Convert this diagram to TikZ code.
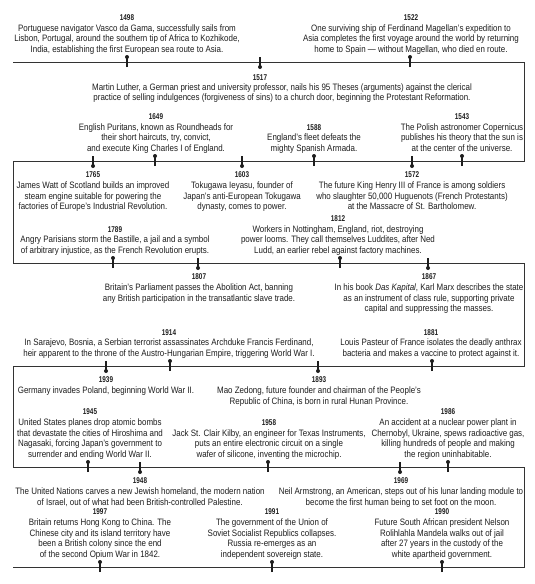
\documentclass[tikz,border=0pt]{standalone}
\usepackage{fontspec}
\setmainfont{Liberation Sans}[FakeStretch=0.855]
\newfontfamily\yrfont{Liberation Sans}[FakeStretch=0.76]
\definecolor{ink}{HTML}{1E1E1E}
\definecolor{rulec}{HTML}{333333}
\newcommand{\yr}[1]{{\yrfont\bfseries\fontsize{8.4}{10.8}\selectfont #1}}
\newcommand{\tlpinup}[2]{\draw[pinstem] (#1,#2+5) -- (#1,#2-5); \fill[pindot] (#1,#2-5) circle[radius=2pt];}
\newcommand{\tlpindown}[2]{\draw[pinstem] (#1,#2-5) -- (#1,#2+5); \fill[pindot] (#1,#2+5) circle[radius=2pt];}
\tikzset{
  ev/.style={font=\fontsize{9.3}{10.8}\selectfont, text=ink, align=center, inner sep=0pt,
    execute at begin node=\strut, execute at end node=\strut},
  up/.style={ev, anchor=south},
  dn/.style={ev, anchor=north},
  tline/.style={draw=rulec, line width=1pt, line join=miter},
  pinstem/.style={draw=ink, line width=1.1pt},
  pindot/.style={fill=ink}
}
\begin{document}
\begin{tikzpicture}[x=1pt,y=-1pt]
\def\La{62}\def\Lb{161}\def\Lc{263}\def\Ld{366}\def\Le{467}\def\Lf{567}
\useasboundingbox (0,0) rectangle (535,584);
\fill[white] (0,0) rectangle (535,584);
% serpentine line
\coordinate (a0) at (13,\La); \coordinate (a1) at (524,\La);
\coordinate (b1) at (524,\Lb); \coordinate (b0) at (13,\Lb);
\coordinate (c0) at (13,\Lc); \coordinate (c1) at (524,\Lc);
\coordinate (d1) at (524,\Ld); \coordinate (d0) at (13,\Ld);
\coordinate (e0) at (13,\Le); \coordinate (e1) at (524,\Le);
\coordinate (f1) at (524,\Lf); \coordinate (f0) at (13,\Lf);
\draw[tline] (a0) -- (a1) -- (b1) -- (b0) -- (c0) -- (c1) -- (d1) -- (d0) -- (e0) -- (e1) -- (f1) -- (f0);

% ---- Row 1
\node[up] (e1498) at (127,\La-5.8) {\yr{1498}\\Portuguese navigator Vasco da Gama, successfully sails from\\Lisbon, Portugal, around the southern tip of Africa to Kozhikode,\\India, establishing the first European sea route to Asia.};
\tlpinup{127}{\La}
\node[up] (e1522) at (411,\La-5.8) {\yr{1522}\\One surviving ship of Ferdinand Magellan's expedition to\\Asia completes the first voyage around the world by returning\\home to Spain — without Magellan, who died en route.};
\tlpinup{410}{\La}
\node[dn] (y1517) at (260,\La+10.4) {\yr{1517}};
\node[dn] (e1517) at (282,\La+21.2) {Martin Luther, a German priest and university professor, nails his 95 Theses (arguments) against the clerical\\practice of selling indulgences (forgiveness of sins) to a church door, beginning the Protestant Reformation.};
\tlpindown{260}{\La}

% ---- Row 2
\node[up] (e1649) at (156,\Lb-5.8) {\yr{1649}\\English Puritans, known as Roundheads for\\their short haircuts, try, convict,\\and execute King Charles I of England.};
\tlpinup{155}{\Lb}
\node[up] (e1588) at (314,\Lb-5.8) {\yr{1588}\\England's fleet defeats the\\mighty Spanish Armada.};
\tlpinup{314}{\Lb}
\node[up] (e1543) at (462,\Lb-5.8) {\yr{1543}\\The Polish astronomer Copernicus\\publishes his theory that the sun is\\at the center of the universe.};
\tlpinup{462}{\Lb}
\node[dn] (e1765) at (93,\Lb+10.4) {\yr{1765}\\James Watt of Scotland builds an improved\\steam engine suitable for powering the\\factories of Europe's Industrial Revolution.};
\tlpindown{93}{\Lb}
\node[dn] (e1603) at (242,\Lb+10.4) {\yr{1603}\\Tokugawa Ieyasu, founder of\\Japan's anti-European Tokugawa\\dynasty, comes to power.};
\tlpindown{242}{\Lb}
\node[dn] (e1572) at (412,\Lb+10.4) {\yr{1572}\\The future King Henry III of France is among soldiers\\who slaughter 50,000 Huguenots (French Protestants)\\at the Massacre of St. Bartholomew.};
\tlpindown{412}{\Lb}

% ---- Row 3
\node[up] (e1789) at (115,\Lc-5.8) {\yr{1789}\\Angry Parisians storm the Bastille, a jail and a symbol\\of arbitrary injustice, as the French Revolution erupts.};
\tlpinup{113}{\Lc}
\node[up] (e1812) at (338,\Lc-5.8) {\yr{1812}\\Workers in Nottingham, England, riot, destroying\\power looms. They call themselves Luddites, after Ned\\Ludd, an earlier rebel against factory machines.};
\tlpinup{340}{\Lc}
\node[dn] (e1807) at (199,\Lc+10.4) {\yr{1807}\\Britain's Parliament passes the Abolition Act, banning\\any British participation in the transatlantic slave trade.};
\tlpindown{198}{\Lc}
\node[dn] (e1867) at (429,\Lc+10.4) {\yr{1867}\\In his book \textit{Das Kapital}, Karl Marx describes the state\\as an instrument of class rule, supporting private\\capital and suppressing the masses.};
\tlpindown{428}{\Lc}

% ---- Row 4
\node[up] (e1914) at (169,\Ld-5.8) {\yr{1914}\\In Sarajevo, Bosnia, a Serbian terrorist assassinates Archduke Francis Ferdinand,\\heir apparent to the throne of the Austro-Hungarian Empire, triggering World War I.};
\tlpinup{170}{\Ld}
\node[up] (e1881) at (431,\Ld-5.8) {\yr{1881}\\Louis Pasteur of France isolates the deadly anthrax\\bacteria and makes a vaccine to protect against it.};
\tlpinup{432}{\Ld}
\node[dn] (e1939) at (106,\Ld+10.4) {\yr{1939}\\Germany invades Poland, beginning World War II.};
\tlpindown{106}{\Ld}
\node[dn] (e1893) at (319,\Ld+10.4) {\yr{1893}\\Mao Zedong, future founder and chairman of the People's\\Republic of China, is born in rural Hunan Province.};
\tlpindown{318}{\Ld}

% ---- Row 5
\node[up] (e1945) at (90,\Le-5.8) {\yr{1945}\\United States planes drop atomic bombs\\that devastate the cities of Hiroshima and\\Nagasaki, forcing Japan's government to\\surrender and ending World War II.};
\tlpinup{88}{\Le}
\node[up] (e1958) at (269,\Le-5.8) {\yr{1958}\\Jack St. Clair Kilby, an engineer for Texas Instruments,\\puts an entire electronic circuit on a single\\wafer of silicone, inventing the microchip.};
\tlpinup{268}{\Le}
\node[up] (e1986) at (448,\Le-5.8) {\yr{1986}\\An accident at a nuclear power plant in\\Chernobyl, Ukraine, spews radioactive gas,\\killing hundreds of people and making\\the region uninhabitable.};
\tlpinup{448}{\Le}
\node[dn] (e1948) at (140,\Le+10.4) {\yr{1948}\\The United Nations carves a new Jewish homeland, the modern nation\\of Israel, out of what had been British-controlled Palestine.};
\tlpindown{140}{\Le}
\node[dn] (e1969) at (401,\Le+10.4) {\yr{1969}\\Neil Armstrong, an American, steps out of his lunar landing module to\\become the first human being to set foot on the moon.};
\tlpindown{400}{\Le}

% ---- Row 6
\node[up] (e1997) at (100,\Lf-5.8) {\yr{1997}\\Britain returns Hong Kong to China. The\\Chinese city and its island territory have\\been a British colony since the end\\of the second Opium War in 1842.};
\tlpinup{100}{\Lf}
\node[up] (e1991) at (272,\Lf-5.8) {\yr{1991}\\The government of the Union of\\Soviet Socialist Republics collapses.\\Russia re-emerges as an\\independent sovereign state.};
\tlpinup{272}{\Lf}
\node[up] (e1990) at (442,\Lf-5.8) {\yr{1990}\\Future South African president Nelson\\Rolihlahla Mandela walks out of jail\\after 27 years in the custody of the\\white apartheid government.};
\tlpinup{442}{\Lf}
\end{tikzpicture}
\end{document}
